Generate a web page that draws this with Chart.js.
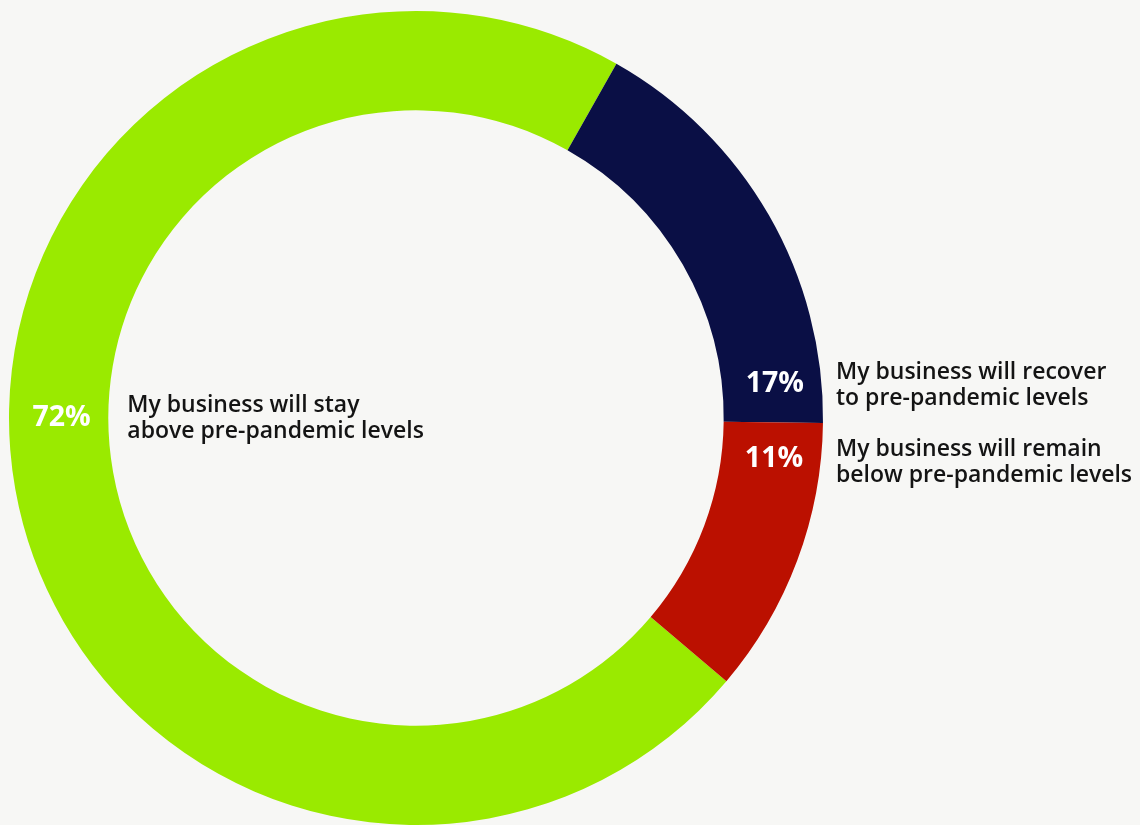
<!DOCTYPE html>
<html>
<head>
<meta charset="utf-8">
<script src="https://cdn.jsdelivr.net/npm/chart.js@4.4.0/dist/chart.umd.min.js"></script>
<style>
  html, body { margin: 0; padding: 0; background: #f7f7f5; }
  #wrap { position: relative; width: 1140px; height: 825px; }
</style>
</head>
<body>
<div id="wrap"><canvas id="outlook"></canvas></div>
<script>
// data
const categories = [
  ['My business will stay', 'above pre-pandemic levels'],
  ['My business will recover', 'to pre-pandemic levels'],
  ['My business will remain', 'below pre-pandemic levels']
];
const shares = [72, 17, 11];
const sliceColors = ['#9aea00', '#0a0f45', '#bb1000'];

// where the % sits on the ring (degrees, canvas 0 = 3 o'clock)
const pctAngles = [180, -5.4, 6.6];

const labelPlugin = {
  id: 'ringLabels',
  afterDatasetsDraw(chart) {
    const ctx = chart.ctx;
    const arcs = chart.getDatasetMeta(0).data;
    const a0 = arcs[0];
    const cx = a0.x, cy = a0.y;
    const rOut = a0.outerRadius, rIn = a0.innerRadius;
    const rMid = (rOut + rIn) / 2;

    ctx.save();
    // percentages
    ctx.fillStyle = '#ffffff';
    ctx.font = 'bold 28.5px "Open Sans", "Noto Sans", sans-serif';
    ctx.textAlign = 'center';
    ctx.textBaseline = 'middle';
    shares.forEach((v, i) => {
      const ang = pctAngles[i] * Math.PI / 180;
      ctx.fillText(v + '%', cx + rMid * Math.cos(ang) + 3, cy + rMid * Math.sin(ang));
    });

    // category text
    ctx.fillStyle = '#141414';
    ctx.font = '600 23px "Open Sans", "Noto Sans", sans-serif';
    ctx.textAlign = 'left';
    ctx.textBaseline = 'alphabetic';
    const lh = 25.5;
    const spots = [
      { x: cx - rIn + 19, y: cy - 6 },
      { x: cx + rOut + 13, y: cy - 39 },
      { x: cx + rOut + 13, y: cy + 38 }
    ];
    categories.forEach((lines, i) => {
      lines.forEach((t, j) => ctx.fillText(t, spots[i].x, spots[i].y + j * lh));
    });
    ctx.restore();
  }
};

new Chart(document.getElementById('outlook'), {
  type: 'doughnut',
  data: {
    labels: categories.map(c => c.join(' ')),
    datasets: [{
      data: shares,
      backgroundColor: sliceColors,
      borderWidth: 0,
      hoverOffset: 0
    }]
  },
  options: {
    responsive: true,
    maintainAspectRatio: false,
    animation: false,
    rotation: 130.3,
    cutout: '75.6%',
    layout: { padding: { left: 9, right: 317, top: 11, bottom: 0 } },
    plugins: {
      legend: { display: false },
      tooltip: { enabled: false }
    }
  },
  plugins: [labelPlugin]
});
</script>
</body>
</html>
